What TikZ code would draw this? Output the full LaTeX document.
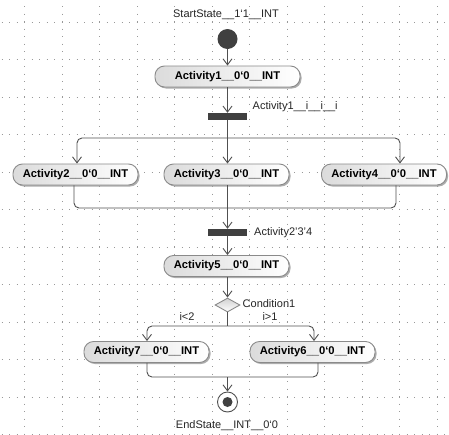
\documentclass[tikz,border=0pt]{standalone}
\usepackage{fontspec}
\setmainfont{Liberation Sans}
\usetikzlibrary{arrows.meta,shadows,shapes.geometric,calc}
\definecolor{lineC}{HTML}{505050}
\definecolor{borderC}{HTML}{8A8A8A}
\definecolor{darkC}{HTML}{404040}
\begin{document}
\begin{tikzpicture}[x=1pt,y=-1pt,
  actbox/.style={draw=borderC, line width=0.9pt, rounded corners=9.5pt,
    minimum width=125pt, minimum height=21pt, inner sep=0pt,
    left color=black!14, right color=white,
    drop shadow={shadow xshift=1.5pt, shadow yshift=-1.5pt, fill=black!40, opacity=0.8},
    font=\fontsize{11.2}{13}\selectfont\bfseries},
  barbox/.style={fill=darkC, draw=none, minimum width=39pt, minimum height=7pt, inner sep=0pt},
  lbl/.style={font=\fontsize{11}{13}\selectfont, text=black!85, inner sep=0pt},
  conn/.style={draw=lineC, line width=0.9pt, rounded corners=5pt},
  arr/.style={conn, -{Straight Barb[length=6pt,width=9pt,line width=0.9pt]}},
  gridline/.style={draw=black!40, line width=1pt, dash pattern=on 1pt off 6.5pt}
]
\useasboundingbox (0,0) rectangle (449,434);
\fill[white] (0,0) rectangle (449,434);
% grid
\foreach \k in {0,...,11} {
  \draw[gridline] (1.5,22+37.5*\k) -- (449,22+37.5*\k);
  \draw[gridline] (24.5+37.5*\k,-1.5) -- (24.5+37.5*\k,434);
}
% nodes
\node[lbl] (startlbl) at (226,15) {StartState\_\_1`1\_\_INT};
\node[circle, fill=darkC, minimum size=20pt, inner sep=0pt] (start) at (227.5,39) {};
\node[actbox, minimum width=145pt] (a1) at (227.5,76.5) {Activity1\_\_0`0\_\_INT};
\node[barbox] (fork1) at (227.5,116.5) {};
\node[lbl, anchor=west] (f1lbl) at (252.5,107) {Activity1\_\_i\_\_i\_\_i};
\coordinate (j1) at (227.5,138);
\node[actbox] (a2) at (75.5,174.5) {Activity2\_\_0`0\_\_INT};
\node[actbox] (a3) at (226.5,174.5) {Activity3\_\_0`0\_\_INT};
\node[actbox] (a4) at (384,174.5) {Activity4\_\_0`0\_\_INT};
\coordinate (j2) at (227.5,208);
\node[barbox] (fork2) at (227.5,232.5) {};
\node[lbl, anchor=west] (f2lbl) at (254,232.5) {Activity2'3'4};
\node[actbox] (a5) at (226.5,266) {Activity5\_\_0`0\_\_INT};
\node[diamond, draw=borderC, line width=0.9pt, top color=black!18, bottom color=white,
  minimum width=25pt, minimum height=14pt, inner sep=0pt, aspect=1.8] (cond) at (227.5,305) {};
\node[lbl, anchor=west] (condlbl) at (242.5,304) {Condition1};
\node[lbl] (g1) at (187,316.5) {i<2};
\node[lbl] (g2) at (270,316.5) {i>1};
\coordinate (j3) at (227.5,326);
\node[actbox] (a7) at (146.5,352) {Activity7\_\_0`0\_\_INT};
\node[actbox] (a6) at (312.5,352) {Activity6\_\_0`0\_\_INT};
\coordinate (j4) at (227.5,377);
\node[circle, draw=lineC, line width=0.9pt, fill=white, minimum size=20pt, inner sep=0pt] (endst) at (227.5,402) {};
\node[circle, fill=darkC, minimum size=10pt, inner sep=0pt] (endin) at (endst) {};
\node[lbl] (endlbl) at (227,425.5) {EndState\_\_INT\_\_0`0};
% connectors
\draw[arr] (start.south) -- (start.south |- a1.north);
\draw[arr] (a1.south -| fork1) -- (fork1.north);
\draw[conn] (fork1.south) -- (j1);
\draw[arr] (j1) -| ([xshift=1.5pt]a2.north);
\draw[arr] (j1) -| ([xshift=16pt]a4.north);
\draw[arr] (fork1.south) -- (fork1.south |- a3.north);
\draw[conn] ([xshift=-1.5pt]a2.south) |- (j2);
\draw[conn] ([xshift=12pt]a4.south) |- (j2);
\draw[conn] (a3.south -| j2) -- (j2);
\draw[arr] (j2) -- (fork2.north);
\draw[arr] (fork2.south) -- (fork2.south |- a5.north);
\draw[arr] (a5.south -| cond) -- (cond.north);
\draw[conn] (cond.south) -- (j3);
\draw[arr] (j3) -| ([xshift=0.5pt]a7.north);
\draw[arr] (j3) -| ([xshift=1.5pt]a6.north);
\draw[conn] ([xshift=0.5pt]a7.south) |- (j4);
\draw[conn] ([xshift=5.5pt]a6.south) |- (j4);
\draw[arr] (j4) -- (endst.north);
\end{tikzpicture}
\end{document}
